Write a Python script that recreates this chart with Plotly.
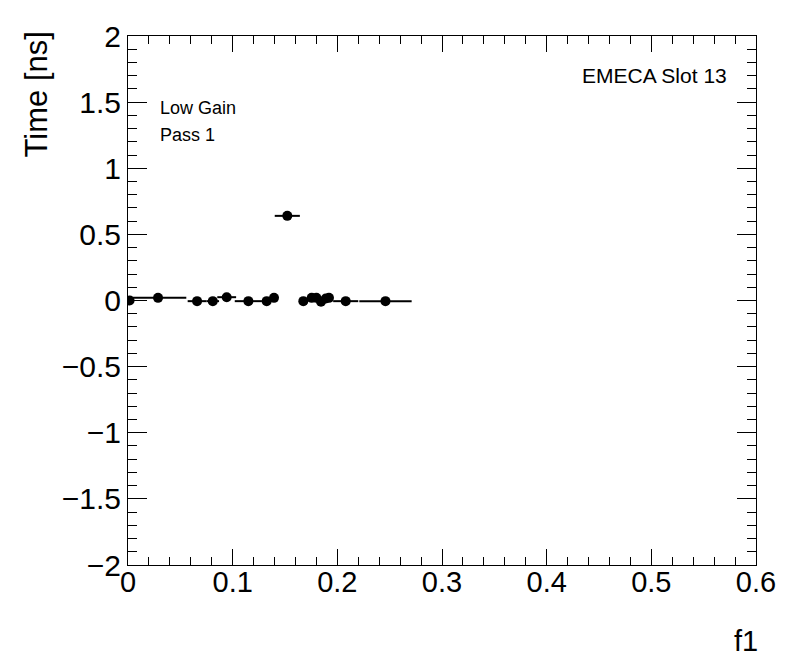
import plotly.graph_objects as go

# Data
f1_values = [0.0015, 0.0287, 0.066, 0.081, 0.0943, 0.115, 0.1325, 0.1395, 0.1522,
             0.1675, 0.1755, 0.180, 0.1844, 0.189, 0.192, 0.208, 0.246]
time_values = [0.0, 0.02, -0.005, -0.005, 0.025, -0.005, -0.005, 0.02, 0.64,
               -0.005, 0.02, 0.02, -0.01, 0.015, 0.02, -0.005, -0.005]
f1_errors = [0.0015, 0.027, 0.009, 0.006, 0.009, 0.013, 0.004, 0.002, 0.012,
             0.003, 0.002, 0.002, 0.002, 0.002, 0.002, 0.012, 0.025]

x_tick_vals = [0, 0.1, 0.2, 0.3, 0.4, 0.5, 0.6]
y_tick_vals = [-2, -1.5, -1, -0.5, 0, 0.5, 1, 1.5, 2]

FONT = "Liberation Sans, Arial, sans-serif"

# The page body adds an 8px offset; margins compensate so the frame sits at
# x 128..756, y 36..565 in the screenshot.
fig = go.Figure()
fig.add_trace(go.Scatter(
    x=f1_values, y=time_values, mode="markers",
    marker=dict(symbol="circle", size=10, color="black"),
    error_x=dict(type="data", array=f1_errors, visible=True, color="black",
                 thickness=2, width=0),
    showlegend=False,
))

fig.update_layout(
    width=796, height=672,
    paper_bgcolor="white", plot_bgcolor="white",
    margin=dict(l=120, r=48, t=28, b=115, autoexpand=False),
    font=dict(family=FONT, color="black"),
)

fig.update_xaxes(
    range=[0, 0.6], tickvals=x_tick_vals, ticktext=[("%g" % v) for v in x_tick_vals],
    ticks="inside", ticklen=16, tickwidth=1, tickcolor="black",
    showline=True, linecolor="black", linewidth=1, mirror="ticks",
    showgrid=False, zeroline=False, ticklabelstandoff=-9,
    tickfont=dict(family=FONT, size=29),
    minor=dict(dtick=0.02, ticks="inside", ticklen=8, tickcolor="black", showgrid=False),
)
fig.update_yaxes(
    range=[-2, 2], tickvals=y_tick_vals,
    ticks="inside", ticklen=19, tickwidth=1, tickcolor="black",
    showline=True, linecolor="black", linewidth=1, mirror="ticks",
    showgrid=False, zeroline=False,
    tickfont=dict(family=FONT, size=30),
    minor=dict(dtick=0.1, ticks="inside", ticklen=9, tickcolor="black", showgrid=False),
)

fig.add_annotation(text="Time [ns]", textangle=-90, xref="paper", yref="paper",
                   x=-0.146, y=1.013, xanchor="center", yanchor="top",
                   showarrow=False, font=dict(family=FONT, size=31))
fig.add_annotation(text="f1", xref="paper", yref="paper",
                   x=1.0, y=-0.143, xanchor="right", yanchor="middle", xshift=4,
                   showarrow=False, font=dict(family=FONT, size=29))
fig.add_annotation(text="EMECA Slot 13", xref="paper", yref="paper",
                   x=(729 - 128) / 628, y=(565 - 75) / 529, xanchor="right", yanchor="middle",
                   showarrow=False, font=dict(family=FONT, size=21))
fig.add_annotation(text="Low Gain", xref="paper", yref="paper",
                   x=(158 - 128) / 628, y=(565 - 108) / 529, xanchor="left", yanchor="middle",
                   showarrow=False, font=dict(family=FONT, size=18))
fig.add_annotation(text="Pass 1", xref="paper", yref="paper",
                   x=(158 - 128) / 628, y=(565 - 135) / 529, xanchor="left", yanchor="middle",
                   showarrow=False, font=dict(family=FONT, size=18))

fig.write_html("out.html")
